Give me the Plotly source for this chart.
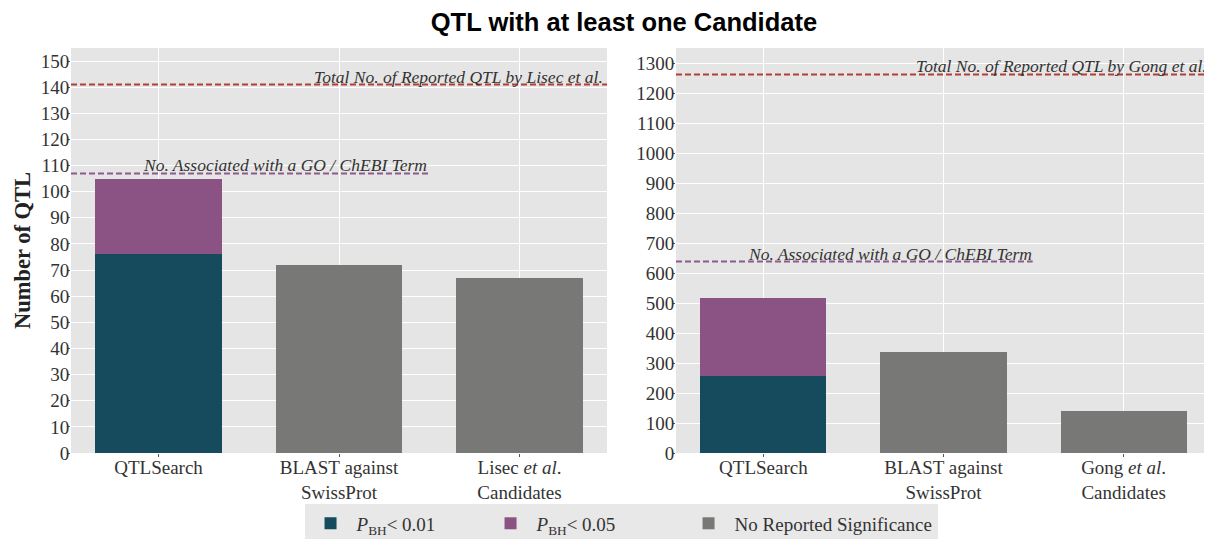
import plotly.graph_objects as go
from plotly.subplots import make_subplots

# ---------------- data ----------------
cats_left = ["QTLSearch", "BLAST against<br>SwissProt", "Lisec <i>et al</i>.<br>Candidates"]
cats_right = ["QTLSearch", "BLAST against<br>SwissProt", "Gong <i>et al</i>.<br>Candidates"]

p001_left = [76, None, None]
p005_left = [29, None, None]
nosig_left = [None, 72, 67]

p001_right = [257, None, None]
p005_right = [261, None, None]
nosig_right = [None, 337, 140]

total_reported = [141, 1262]
go_associated = [107, 638]
total_labels = ["Total No. of Reported QTL by Lisec et al.",
                "Total No. of Reported QTL by Gong et al."]
go_label = "No. Associated with a GO / ChEBI Term"

series_names = ["<i>P</i><sub>BH</sub>&lt; 0.01", "<i>P</i><sub>BH</sub>&lt; 0.05",
                "No Reported Significance"]
series_colors = ["#154B5C", "#8A5384", "#787876"]
legend_entry_widths = [123, 141, None]

y_left_ticks = list(range(0, 151, 10))
y_right_ticks = list(range(0, 1301, 100))

# ---------------- figure ----------------
SERIF = "Liberation Serif"
fig = make_subplots(rows=1, cols=2, horizontal_spacing=0.06)

panels = [
    (cats_left, [p001_left, p005_left, nosig_left], 1, True),
    (cats_right, [p001_right, p005_right, nosig_right], 2, False),
]
for cats, series, col, show in panels:
    for vals, name, color, lw in zip(series, series_names, series_colors, legend_entry_widths):
        fig.add_trace(go.Bar(x=cats, y=vals, name=name, marker_color=color,
                             marker_line_width=0, width=0.7, showlegend=show,
                             legendgroup=name, legendwidth=lw),
                      row=1, col=col)

fig.update_layout(barmode="stack")

axis_common = dict(showgrid=True, gridcolor="white", gridwidth=1, zeroline=False,
                   ticks="outside", ticklen=3, tickcolor="#555555", tickwidth=1,
                   showline=False, automargin=False)
fig.update_xaxes(**axis_common, range=[-0.485, 2.485], ticklabelstandoff=-6,
                 tickfont=dict(family=SERIF, size=19, color="#333333"))
fig.update_yaxes(**axis_common, ticklabelstandoff=-6,
                 tickfont=dict(family=SERIF, size=19, color="#333333"))
fig.update_xaxes(domain=[0, 0.4702], row=1, col=1)
fig.update_xaxes(domain=[0.5307, 1.0], row=1, col=2)
fig.update_yaxes(range=[0, 155], tickvals=y_left_ticks, row=1, col=1,
                 title=dict(text="<b>Number of QTL</b>", standoff=3,
                            font=dict(family=SERIF, size=22.5, color="#222222")))
fig.update_yaxes(range=[0, 1350], tickvals=y_right_ticks, row=1, col=2)

# reference lines
axrefs = [("x", "y"), ("x2", "y2")]
for (xr, yr), tot, go_n, lbl in zip(axrefs, total_reported, go_associated, total_labels):
    fig.add_shape(type="line", xref=f"{xr} domain", yref=yr, x0=0, x1=1, y0=tot, y1=tot,
                  line=dict(color="#B23E36", width=2, dash="6px,3px"))
    fig.add_shape(type="line", xref=f"{xr} domain", yref=yr, x0=0, x1=2 / 3, y0=go_n, y1=go_n,
                  line=dict(color="#8E5A8A", width=2, dash="6px,3px"))
    fig.add_annotation(xref=f"{xr} domain", yref=yr, x=1, y=tot, xanchor="right",
                       yanchor="bottom", showarrow=False, text=f"<i>{lbl}</i>",
                       font=dict(family=SERIF, size=17.5, color="#333333"), yshift=-3,
                       xshift=-3, borderpad=0)
    fig.add_annotation(xref=f"{xr} domain", yref=yr, x=2 / 3, y=go_n, xanchor="right",
                       yanchor="bottom", showarrow=False, text=f"<i>{go_label}</i>",
                       font=dict(family=SERIF, size=17.5, color="#333333"), yshift=-3,
                       borderpad=0)

# the page places the figure 8 px from the top-left corner of the window
fig.update_layout(
    width=1204, height=531,
    margin=dict(l=63, r=1, t=40, b=86, autoexpand=False),
    paper_bgcolor="white", plot_bgcolor="#E5E5E5",
    title=dict(text="<b>QTL with at least one Candidate</b>", x=0.5116, xanchor="center",
               xref="container", y=0.9736, yanchor="middle",
               font=dict(family="Liberation Sans", size=25.5, color="black")),
    legend=dict(orientation="h", x=0.4825, xanchor="center", y=-0.127, yanchor="top",
                bgcolor="#E8E8E8", font=dict(family=SERIF, size=19, color="#333333"),
                itemwidth=42, traceorder="normal"),
    bargap=0.3,
)

fig.write_html("out.html")
